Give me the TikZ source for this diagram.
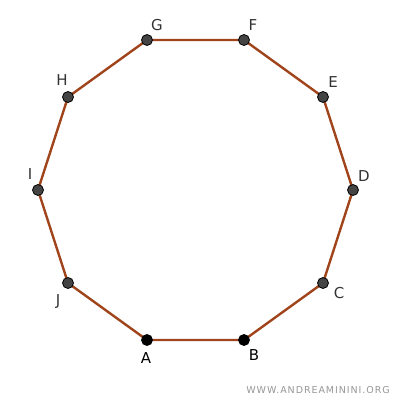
\documentclass[tikz,border=0pt]{standalone}
\usepackage{fontspec}
\setmainfont{DejaVu Sans}
\newfontfamily\wmfont[LetterSpace=10]{DejaVu Sans}
\definecolor{edgec}{RGB}{160,68,28}
\definecolor{ptc}{RGB}{68,68,68}
\definecolor{lblc}{RGB}{51,51,51}
\definecolor{wmc}{RGB}{150,150,150}
\begin{document}
\begin{tikzpicture}[x=1pt,y=-1pt,
  vtx/.style={circle,draw=black,fill=ptc,line width=0.8pt,inner sep=0pt,minimum size=11pt},
  vtxb/.style={vtx,fill=black},
  lbl/.style={text=lblc,font=\fontsize{15}{16}\selectfont,inner sep=0pt},
  lblb/.style={lbl,text=black},
  edge/.style={draw=edgec,line width=2.4pt}]
\useasboundingbox (0,0) rectangle (400,400);
\coordinate (A) at (147,340);
\coordinate (B) at (244,340);
\coordinate (C) at (323,283);
\coordinate (D) at (353,190);
\coordinate (E) at (323,97);
\coordinate (F) at (244,40);
\coordinate (G) at (147,40);
\coordinate (H) at (68,97);
\coordinate (I) at (38,190);
\coordinate (J) at (68,283);
\draw[edge] (A) -- (B) -- (C) -- (D) -- (E) -- (F) -- (G) -- (H) -- (I) -- (J) -- cycle;
\node[vtxb] (pA) at (A) {};
\node[vtxb] (pB) at (B) {};
\node[vtx] (pC) at (C) {};
\node[vtx] (pD) at (D) {};
\node[vtx] (pE) at (E) {};
\node[vtx] (pF) at (F) {};
\node[vtx] (pG) at (G) {};
\node[vtx] (pH) at (H) {};
\node[vtx] (pI) at (I) {};
\node[vtx] (pJ) at (J) {};
\node[lblb] (lA) at (146,358) {A};
\node[lblb] (lB) at (254,355) {B};
\node[lbl] (lC) at (339,293) {C};
\node[lbl] (lD) at (364,176) {D};
\node[lbl] (lE) at (333,82) {E};
\node[lbl] (lF) at (253,25) {F};
\node[lbl] (lG) at (157,25) {G};
\node[lbl] (lH) at (62,80) {H};
\node[lbl] (lI) at (30,174) {I};
\node[lbl] (lJ) at (58,302) {J};
\node[text=wmc,font=\wmfont\fontsize{9.5}{10}\selectfont,anchor=east,inner sep=0pt] (wm) at (390,390) {WWW.ANDREAMININI.ORG};
\end{tikzpicture}
\end{document}
